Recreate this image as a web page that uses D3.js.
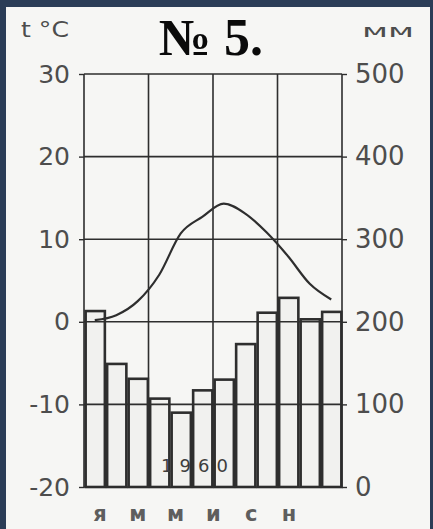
<!DOCTYPE html>
<html>
<head>
<meta charset="utf-8">
<script src="https://cdn.jsdelivr.net/npm/d3@7"></script>
<style>
  html, body { margin: 0; padding: 0; background: #2b3d57; }
  #chart { width: 433px; height: 529px; }
</style>
</head>
<body>
<div id="chart"></div>
<script>
var months = ['01', '02', '03', '04', '05', '06', '07', '08', '09', '10', '11', '12'];
var monthLabels = ['я', '', 'м', '', 'м', '', 'и', '', 'с', '', 'н', ''];
var temperature = [0.2, 0.8, 2.5, 5.7, 10.7, 12.7, 14.3, 13.1, 10.8, 7.9, 4.6, 2.7];
var precipitation = [213, 149, 131, 107, 90, 117, 130, 173, 211, 229, 203, 212];
var tempTicks = [30, 20, 10, 0, -10, -20];
var precTicks = [500, 400, 300, 200, 100, 0];
var title = '№ 5.';
var yearLabel = '1960';

var climateChart = {
  _ink: '#2e2e2e',
  _label: '#4d4d4d'
};

climateChart.create = function(el, props) {
  var svg = d3.select(el).append('svg')
              .attr('width', props.width)
              .attr('height', props.height);

  // white sheet on the dark slide
  svg.append('rect')
     .attr('x', 6).attr('y', 7)
     .attr('width', props.width - 9).attr('height', props.height - 7)
     .attr('fill', '#f6f6f4');

  svg.append('g').attr('class', 'barsWrapper');
  svg.append('g').attr('class', 'gridWrapper');
  svg.append('g').attr('class', 'lineWrapper');
  svg.append('g').attr('class', 'yaxisWrapper');
  svg.append('g').attr('class', 'y2axisWrapper');
  svg.append('g').attr('class', 'textWrapper');

  this.props = props;
  this.update(el);
};

climateChart.update = function(el) {
  var svg = d3.select(el).select('svg');
  this._drawBars(svg);
  this._drawGrid(svg);
  this._drawLine(svg);
  this._drawAxis(svg);
  this._drawTexts(svg);
};

climateChart._scales = function() {
  var p = this.props.plot;
  var x = d3.scaleBand().domain(months).range([p.left, p.right]).paddingInner(0.06).paddingOuter(0.03);
  var slot = d3.scaleBand().domain(months).range([p.left, p.right]);
  var t = d3.scaleLinear().domain([-20, 30]).range([p.bottom, p.top]);
  var r = d3.scaleLinear().domain([0, 500]).range([p.bottom, p.top]);
  return {x: x, slot: slot, t: t, r: r};
};

climateChart._drawBars = function(svg) {
  var s = this._scales();
  var bars = svg.select('g.barsWrapper').selectAll('rect').data(precipitation);
  bars.enter()
      .append('rect')
      .merge(bars)
      .attr('x', function(d, i) { return s.x(months[i]) + 1; })
      .attr('y', function(d) { return s.r(d); })
      .attr('width', s.x.bandwidth() - 1)
      .attr('height', function(d) { return s.r(0) - s.r(d); })
      .attr('fill', '#f1f1ef')
      .attr('stroke', this._ink)
      .attr('stroke-width', 2.6);
  bars.exit().remove();
};

climateChart._drawGrid = function(svg) {
  var s = this._scales();
  var p = this.props.plot;
  var g = svg.select('g.gridWrapper');

  var hl = g.selectAll('line.h').data(tempTicks);
  hl.enter().append('line').attr('class', 'h')
    .merge(hl)
    .attr('x1', p.left).attr('x2', p.right)
    .attr('y1', function(d) { return s.t(d); })
    .attr('y2', function(d) { return s.t(d); })
    .attr('stroke', this._ink)
    .attr('stroke-width', 1.6);

  // every third month boundary plus the frame sides
  var vKeys = months.filter(function(m, i) { return i % 3 === 0; });
  var vl = g.selectAll('line.v').data(vKeys.concat(['end']));
  vl.enter().append('line').attr('class', 'v')
    .merge(vl)
    .attr('x1', function(d) { return d === 'end' ? p.right : s.slot(d); })
    .attr('x2', function(d) { return d === 'end' ? p.right : s.slot(d); })
    .attr('y1', p.top).attr('y2', p.bottom)
    .attr('stroke', this._ink)
    .attr('stroke-width', 1.6);
};

climateChart._drawLine = function(svg) {
  var s = this._scales();
  var lineFunc = d3.line()
                   .x(function(d, i) { return s.slot(months[i]) + s.slot.bandwidth() / 2; })
                   .y(function(d) { return s.t(d); })
                   .curve(d3.curveMonotoneX);

  var path = svg.select('g.lineWrapper').selectAll('path').data([temperature]);
  path.enter()
      .append('path')
      .merge(path)
      .attr('d', lineFunc)
      .attr('fill', 'none')
      .attr('stroke', this._ink)
      .attr('stroke-width', 2.2);
};

climateChart._drawAxis = function(svg) {
  var s = this._scales();
  var p = this.props.plot;
  var label = this._label;

  var left = d3.axisLeft(s.t).tickValues(tempTicks).tickSize(5).tickPadding(9)
               .tickFormat(function(d) { return String(d); });
  var right = d3.axisRight(s.r).tickValues(precTicks).tickSize(5).tickPadding(8)
                .tickFormat(function(d) { return String(d); });

  svg.select('g.yaxisWrapper')
     .attr('transform', 'translate(' + p.left + ',0)')
     .call(left);
  svg.select('g.y2axisWrapper')
     .attr('transform', 'translate(' + p.right + ',0)')
     .call(right);

  svg.selectAll('g.yaxisWrapper, g.y2axisWrapper').each(function() {
    var a = d3.select(this);
    a.select('.domain').remove();
    a.selectAll('line').attr('stroke', '#2e2e2e').attr('stroke-width', 1.4);
    a.selectAll('text')
     .attr('fill', label)
     .style('font-family', '"DejaVu Sans", Verdana, sans-serif')
     .style('font-size', '25px');
  });
  svg.select('g.y2axisWrapper').selectAll('text').style('font-size', '26px');
};

climateChart._drawTexts = function(svg) {
  var g = svg.select('g.textWrapper');
  var label = this._label;

  g.append('text')
   .attr('x', 211).attr('y', 55)
   .attr('text-anchor', 'middle')
   .style('font-family', '"Liberation Serif", "Times New Roman", serif')
   .style('font-weight', 'bold')
   .style('font-size', '52px')
   .attr('fill', '#0a0a0a')
   .text(title);

  g.append('text')
   .attr('x', 21).attr('y', 37)
   .style('font-family', '"DejaVu Sans", sans-serif')
   .style('font-size', '21px')
   .attr('textLength', 48)
   .attr('lengthAdjust', 'spacingAndGlyphs')
   .attr('fill', label)
   .text('t °C');

  g.append('text')
   .attr('x', 362).attr('y', 37)
   .style('font-family', '"DejaVu Sans", sans-serif')
   .style('font-size', '17px')
   .attr('textLength', 52)
   .attr('lengthAdjust', 'spacingAndGlyphs')
   .attr('fill', label)
   .text('мм');

  g.append('text')
   .attr('x', 198).attr('y', 472)
   .attr('text-anchor', 'middle')
   .style('font-family', '"DejaVu Sans", sans-serif')
   .style('font-size', '18px')
   .style('letter-spacing', '7px')
   .attr('fill', '#3e3e3e')
   .text(yearLabel);

  // the printed month letters sit a little tighter than the bars
  var labelled = monthLabels.filter(function(d) { return d !== ''; });
  var lx = d3.scalePoint().domain(d3.range(labelled.length)).range([100, 289]);
  var ml = g.selectAll('text.month').data(labelled);
  ml.enter()
    .append('text')
    .attr('class', 'month')
    .merge(ml)
    .attr('x', function(d, i) { return lx(i); })
    .attr('y', 521)
    .attr('text-anchor', 'middle')
    .style('font-family', '"DejaVu Sans", sans-serif')
    .style('font-weight', 'bold')
    .style('font-size', '21px')
    .attr('fill', '#5e5e5e')
    .text(function(d) { return d; });
};

climateChart.create(document.getElementById('chart'), {
  width: 433,
  height: 529,
  plot: {left: 84, right: 342, top: 74, bottom: 487}
});
</script>
</body>
</html>
